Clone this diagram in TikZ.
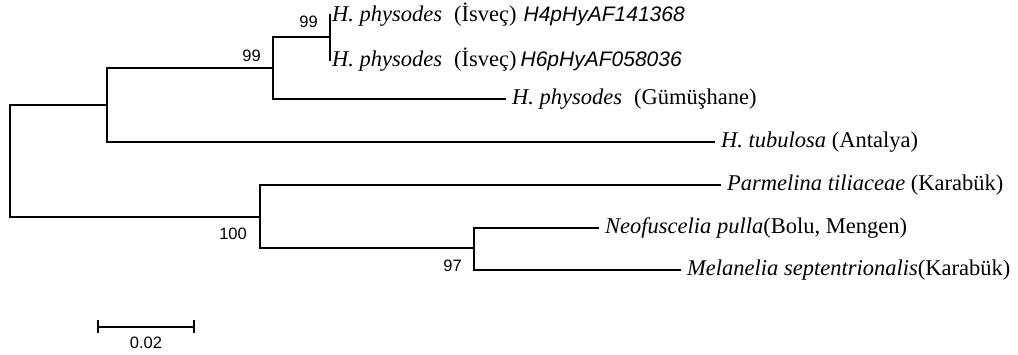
\documentclass[tikz,border=0pt]{standalone}
\usepackage{fontspec}
\setmainfont{Liberation Serif}
\newfontfamily\arialfont{Liberation Sans}
% accession numbers in sans italic
\newcommand\accno[1]{{\arialfont\itshape\fontsize{21}{25}\selectfont #1}}
\begin{document}
\begin{tikzpicture}[x=1pt,y=-1pt,
  branch/.style={line width=1.8pt, line cap=rect, line join=miter},
  leaf/.style={anchor=west, inner xsep=7pt, inner ysep=0pt,
    font=\fontsize{22.5}{27}\selectfont},
  boot/.style={inner sep=0pt, font=\arialfont\fontsize{16.5}{19}\selectfont},
  scalebar/.style={line width=1.8pt}]
\useasboundingbox (0,0) rectangle (1018,355);

% internal nodes of the tree
\coordinate (R) at (10,161);
\coordinate (A) at (107,105);
\coordinate (B) at (273,68);
\coordinate (C) at (330,37);
\coordinate (D) at (260,217);
\coordinate (E) at (474,248);

% terminal taxa
\node[leaf, inner xsep=2pt] (h4) at (330,15)
  {\textit{H. physodes}\hspace{12pt}(İsveç)\hspace{7pt}\accno{H4pHyAF141368}};
\node[leaf, inner xsep=2pt] (h6) at (330,60)
  {\textit{H. physodes}\hspace{12pt}(İsveç)\hspace{4pt}\accno{H6pHyAF058036}};
\node[leaf] (gum) at (505,99) {\textit{H. physodes}\hspace{12pt}(Gümüşhane)};
\node[leaf] (tub) at (714,142) {\textit{H. tubulosa} (Antalya)};
\node[leaf] (par) at (720,185) {\textit{Parmelina tiliaceae} (Karabük)};
\node[leaf] (neo) at (598,228) {\textit{Neofuscelia pulla}(Bolu, Mengen)};
\node[leaf] (mel) at (680,270) {\textit{Melanelia septentrionalis}(Karabük)};

% branches
\draw[branch] (R) |- (A);
\draw[branch] (R) |- (D);
\draw[branch] (A) |- (B);
\draw[branch] (A) |- (tub.west);
\draw[branch] (B) |- (C);
\draw[branch] (B) |- (gum.west);
\draw[branch] (C) |- (h4.west);
\draw[branch] (C) |- (h6.west);
\draw[branch] (D) |- (par.west);
\draw[branch] (D) |- (E);
\draw[branch] (E) |- (neo.west);
\draw[branch] (E) |- (mel.west);

% bootstrap values
\node[boot, anchor=south east] (bB) at ([xshift=-12pt,yshift=6pt]B) {99};
\node[boot, anchor=south east] (bC) at ([xshift=-12pt,yshift=9pt]C) {99};
\node[boot, anchor=north east] (bD) at ([xshift=-13pt,yshift=-11pt]D) {100};
\node[boot, anchor=north east] (bE) at ([xshift=-12pt,yshift=-12pt]E) {97};

% scale bar
\coordinate (s0) at (98,327);
\coordinate (s1) at (194,327);
\draw[scalebar] (s0) -- (s1);
\draw[scalebar] ([yshift=6.5pt]s0) -- ([yshift=-6.5pt]s0);
\draw[scalebar] ([yshift=6.5pt]s1) -- ([yshift=-6.5pt]s1);
\node[boot] (sl) at (146,343) {0.02};
\end{tikzpicture}
\end{document}
